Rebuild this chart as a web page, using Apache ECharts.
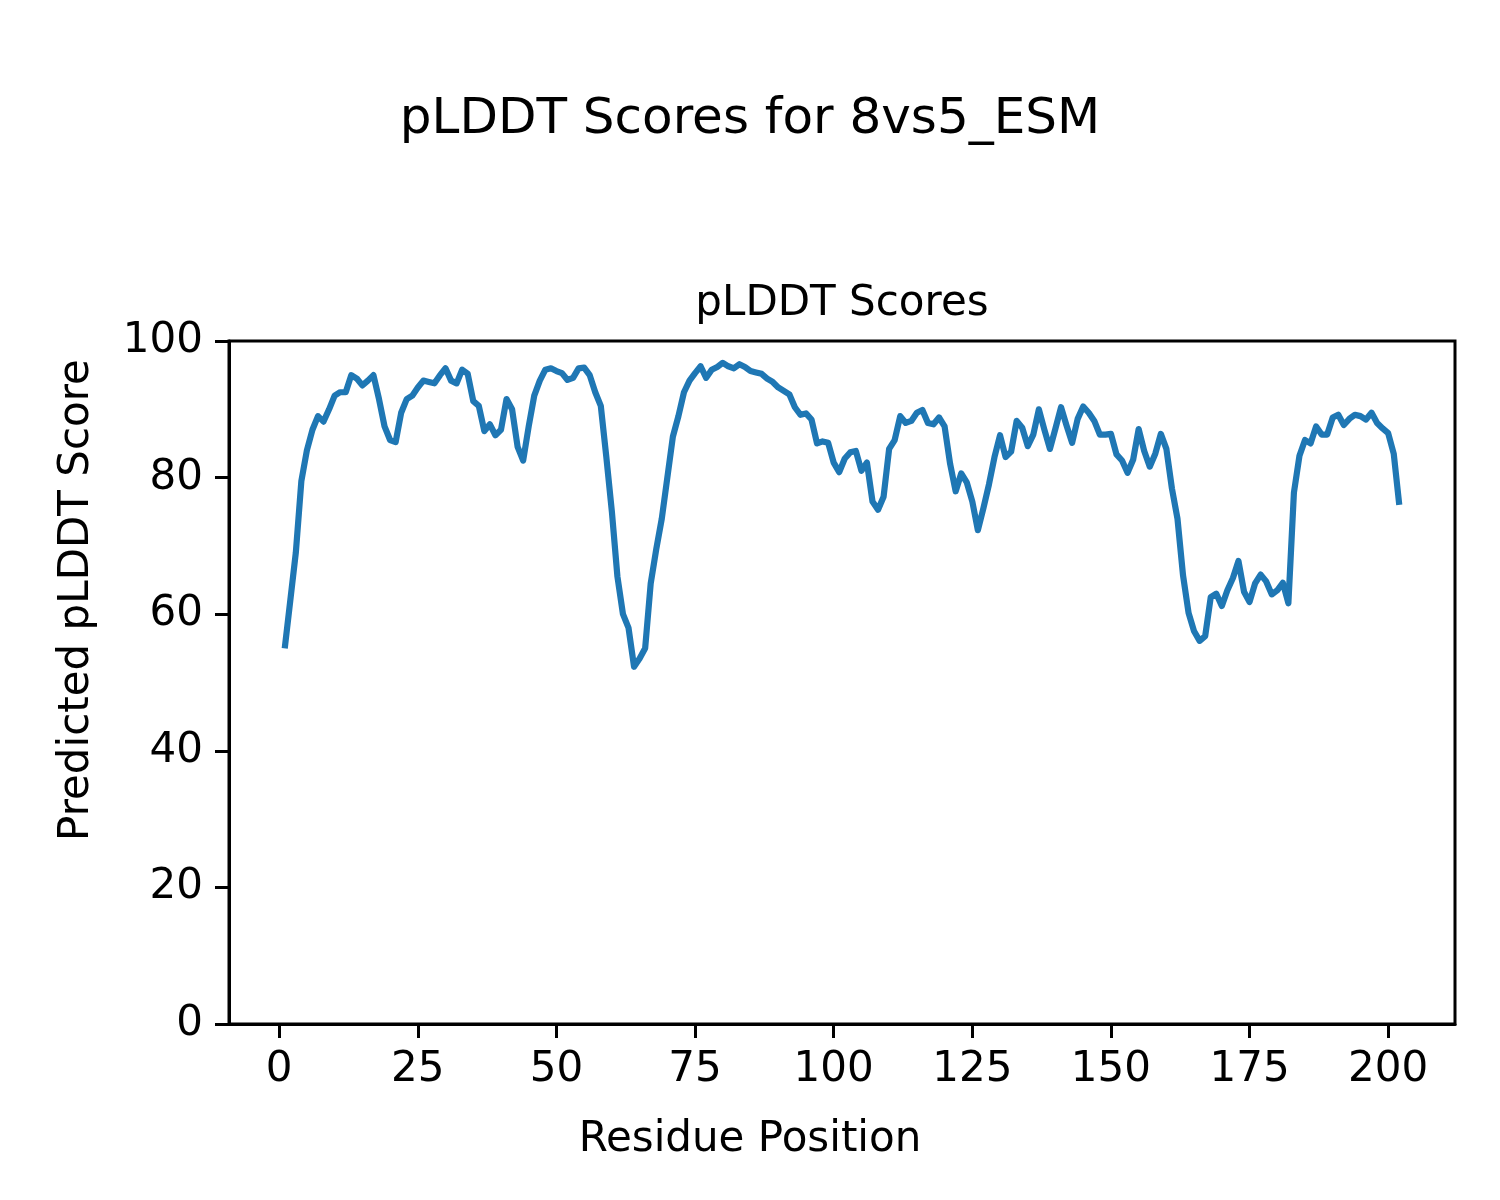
<!DOCTYPE html>
<html>
<head>
<meta charset="utf-8">
<script src="https://cdn.jsdelivr.net/npm/echarts@6/dist/echarts.min.js"></script>
<style>html,body{margin:0;padding:0;background:#fff;}#c{width:1500px;height:1200px;}</style>
</head>
<body>
<div id="c"></div>
<script>
const scores = [
55,62,69,79.5,84,87,89,88.2,90,92,
92.5,92.5,95,94.5,93.5,94.2,95,91.5,87.5,85.5,
85.2,89.5,91.5,92,93.2,94.2,94,93.8,95,96,
94.2,93.8,95.8,95.2,91.2,90.5,86.8,87.8,86.2,87,
91.5,90,84.5,82.5,87.5,92,94.2,95.8,96,95.6,
95.3,94.3,94.6,96,96.1,95,92.5,90.5,83,75,
65.5,60,58,52.3,53.5,55,64.5,69.5,74,80,
86,89,92.5,94.2,95.3,96.3,94.6,95.8,96.2,96.8,
96.3,96,96.6,96.2,95.6,95.4,95.2,94.5,94,93.2,
92.7,92.2,90.3,89.2,89.4,88.5,85,85.3,85.1,82.2,
80.8,82.8,83.7,83.9,81,82.2,76.5,75.3,77.2,84.2,
85.5,89,88,88.3,89.5,89.9,88,87.8,88.8,87.5,
82,78,80.6,79.3,76.5,72.3,75.5,79,83,86.2,
83,83.8,88.3,87.3,84.6,86.3,90,87,84.2,87.2,
90.3,87.6,85.1,88.6,90.4,89.5,88.3,86.3,86.3,86.4,
83.4,82.5,80.7,82.6,87.1,83.9,81.6,83.5,86.4,84.2,
78.4,74,65.7,60.2,57.5,56.1,56.8,62.5,63,61.2,
63.5,65.3,67.8,63.3,61.8,64.5,65.8,64.8,62.9,63.5,
64.6,61.6,77.8,83.2,85.5,85,87.5,86.3,86.3,88.8,
89.2,87.7,88.6,89.2,89,88.5,89.5,88,87.2,86.5,
83.5,76
];
const residues = scores.map((_, i) => i + 1);
const xTicks = [0, 25, 50, 75, 100, 125, 150, 175, 200];
const yTicks = [0, 20, 40, 60, 80, 100];
const suptitle = 'pLDDT Scores for 8vs5_ESM';
const axTitle = 'pLDDT Scores';
const xLabel = 'Residue Position';
const yLabel = 'Predicted pLDDT Score';

const FONT = '"DejaVu Sans", sans-serif';
const chart = echarts.init(document.getElementById('c'), null, {renderer: 'canvas'});
const data = residues.map((r, i) => [r, scores[i]]);
const pad = (residues[residues.length-1] - residues[0]) * 0.05;

chart.setOption({
  animation: false,
  backgroundColor: '#fff',
  grid: {left: 229, top: 341, right: 45, bottom: 176, show: true, borderColor: '#000', borderWidth: 3, backgroundColor: 'transparent'},
  xAxis: {
    type: 'value', min: residues[0] - pad, max: residues[residues.length-1] + pad,
    splitLine: {show: false},
    axisLine: {show: true, onZero: false, lineStyle: {color: '#000', width: 3}},
    axisTick: {show: true, length: 14, lineStyle: {color: '#000', width: 3}, customValues: xTicks},
    axisLabel: {customValues: xTicks, color: '#000', fontSize: 42, fontFamily: FONT, margin: 25}
  },
  yAxis: {
    type: 'value', min: 0, max: 100, interval: 20,
    splitLine: {show: false},
    axisLine: {show: true, onZero: false, lineStyle: {color: '#000', width: 3}},
    axisTick: {show: true, length: 14, lineStyle: {color: '#000', width: 3}, customValues: yTicks},
    axisLabel: {customValues: yTicks, color: '#000', fontSize: 42, fontFamily: FONT, margin: 26}
  },
  series: [{
    type: 'line', data: data, showSymbol: false, symbol: 'none',
    lineStyle: {color: '#1f77b4', width: 6.2, join: 'round'}
  }],
  graphic: [
    {type: 'text', x: 750, y: 120, style: {text: suptitle, fill: '#000', font: '50px ' + FONT, textAlign: 'center', textVerticalAlign: 'middle'}},
    {type: 'text', x: 842, y: 304, style: {text: axTitle, fill: '#000', font: '42px ' + FONT, textAlign: 'center', textVerticalAlign: 'middle'}},
    {type: 'text', x: 750, y: 1140, style: {text: xLabel, fill: '#000', font: '42px ' + FONT, textAlign: 'center', textVerticalAlign: 'middle'}},
    {type: 'text', x: 77, y: 600, rotation: Math.PI / 2, style: {text: yLabel, fill: '#000', font: '42px ' + FONT, textAlign: 'center', textVerticalAlign: 'middle'}}
  ]
});
</script>
</body>
</html>
